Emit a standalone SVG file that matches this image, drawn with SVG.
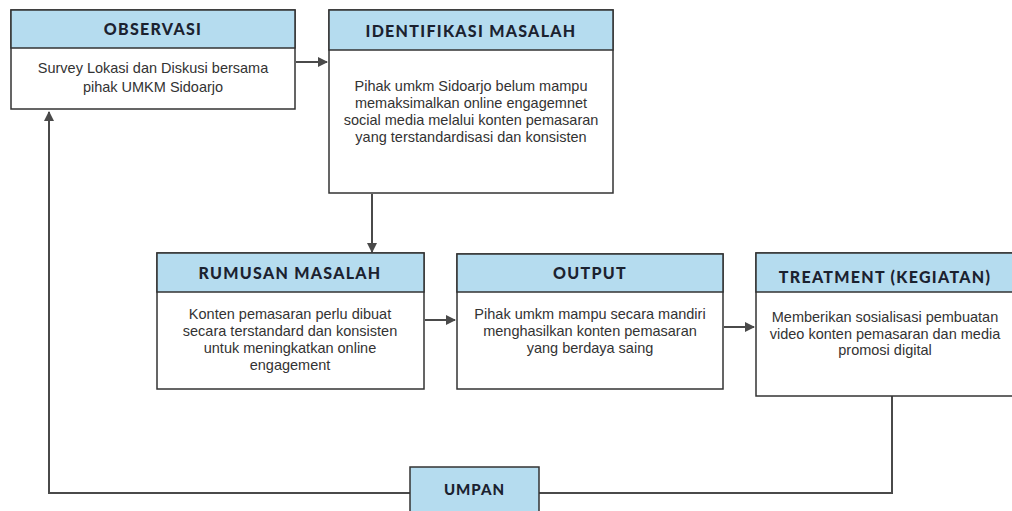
<svg xmlns="http://www.w3.org/2000/svg" width="1012" height="511" viewBox="0 0 1012 511">
<defs>
<style>
.box{fill:#ffffff;stroke:#333;stroke-width:1.5}
.hdr{fill:#b5dcef;stroke:#333;stroke-width:1.5}
.ht{font-family:Lato,"DejaVu Sans",sans-serif;font-weight:900;font-size:16px;letter-spacing:1.3px;fill:#1b2230;text-anchor:middle}
.bt{font-family:"Liberation Sans",Arial,sans-serif;font-size:14.5px;fill:#333;text-anchor:middle}
.ln{fill:none;stroke:#4a4a4a;stroke-width:2}
</style>
<marker id="ah" viewBox="0 0 10 10" refX="9" refY="5" markerWidth="5" markerHeight="5" orient="auto-start-reverse">
<path d="M0,0 L10,5 L0,10 z" fill="#4a4a4a"/>
</marker>
</defs>
<rect width="1012" height="511" fill="#ffffff"/>

<g id="connectors">
<line class="ln" x1="296" y1="62" x2="327" y2="62" marker-end="url(#ah)"/>
<line class="ln" x1="372" y1="194" x2="372" y2="252" marker-end="url(#ah)"/>
<line class="ln" x1="425" y1="320" x2="455" y2="320" marker-end="url(#ah)"/>
<line class="ln" x1="724" y1="327" x2="754" y2="327" marker-end="url(#ah)"/>
<polyline class="ln" points="892,396 892,493 539,493"/>
<polyline class="ln" points="410,493 49,493 49,112" marker-end="url(#ah)"/>
</g>

<g id="observasi">
<rect class="box" x="11" y="10" width="284" height="99"/>
<rect class="hdr" x="11" y="10" width="284" height="38"/>
<text class="ht" x="153" y="35">OBSERVASI</text>
<text class="bt" x="153" y="73">Survey Lokasi dan Diskusi bersama</text>
<text class="bt" x="153" y="92">pihak UMKM Sidoarjo</text>
</g>

<g id="identifikasi">
<rect class="box" x="329" y="10" width="284" height="183"/>
<rect class="hdr" x="329" y="10" width="284" height="40"/>
<text class="ht" x="471" y="37">IDENTIFIKASI MASALAH</text>
<text class="bt" x="471" y="91">Pihak umkm Sidoarjo belum mampu</text>
<text class="bt" x="471" y="108">memaksimalkan online engagemnet</text>
<text class="bt" x="471" y="125">social media melalui konten pemasaran</text>
<text class="bt" x="471" y="142">yang terstandardisasi dan konsisten</text>
</g>

<g id="rumusan">
<rect class="box" x="157" y="253" width="267" height="136"/>
<rect class="hdr" x="157" y="253" width="267" height="39"/>
<text class="ht" x="290" y="279">RUMUSAN MASALAH</text>
<text class="bt" x="290" y="319">Konten pemasaran perlu dibuat</text>
<text class="bt" x="290" y="336">secara terstandard dan konsisten</text>
<text class="bt" x="290" y="353">untuk meningkatkan online</text>
<text class="bt" x="290" y="370">engagement</text>
</g>

<g id="output">
<rect class="box" x="457" y="254" width="266" height="135"/>
<rect class="hdr" x="457" y="254" width="266" height="38"/>
<text class="ht" x="590" y="279">OUTPUT</text>
<text class="bt" x="590" y="319">Pihak umkm mampu secara mandiri</text>
<text class="bt" x="590" y="336">menghasilkan konten pemasaran</text>
<text class="bt" x="590" y="353">yang berdaya saing</text>
</g>

<g id="treatment">
<rect class="box" x="756" y="253" width="260" height="143"/>
<rect class="hdr" x="756" y="253" width="260" height="39"/>
<text class="ht" x="885" y="283">TREATMENT (KEGIATAN)</text>
<text class="bt" x="885" y="322">Memberikan sosialisasi pembuatan</text>
<text class="bt" x="885" y="339">video konten pemasaran dan media</text>
<text class="bt" x="885" y="355">promosi digital</text>
</g>

<g id="umpan">
<rect class="hdr" x="410" y="467" width="129" height="50"/>
<text class="ht" x="474.5" y="495" style="font-size:15px;letter-spacing:1px">UMPAN</text>
</g>
</svg>
